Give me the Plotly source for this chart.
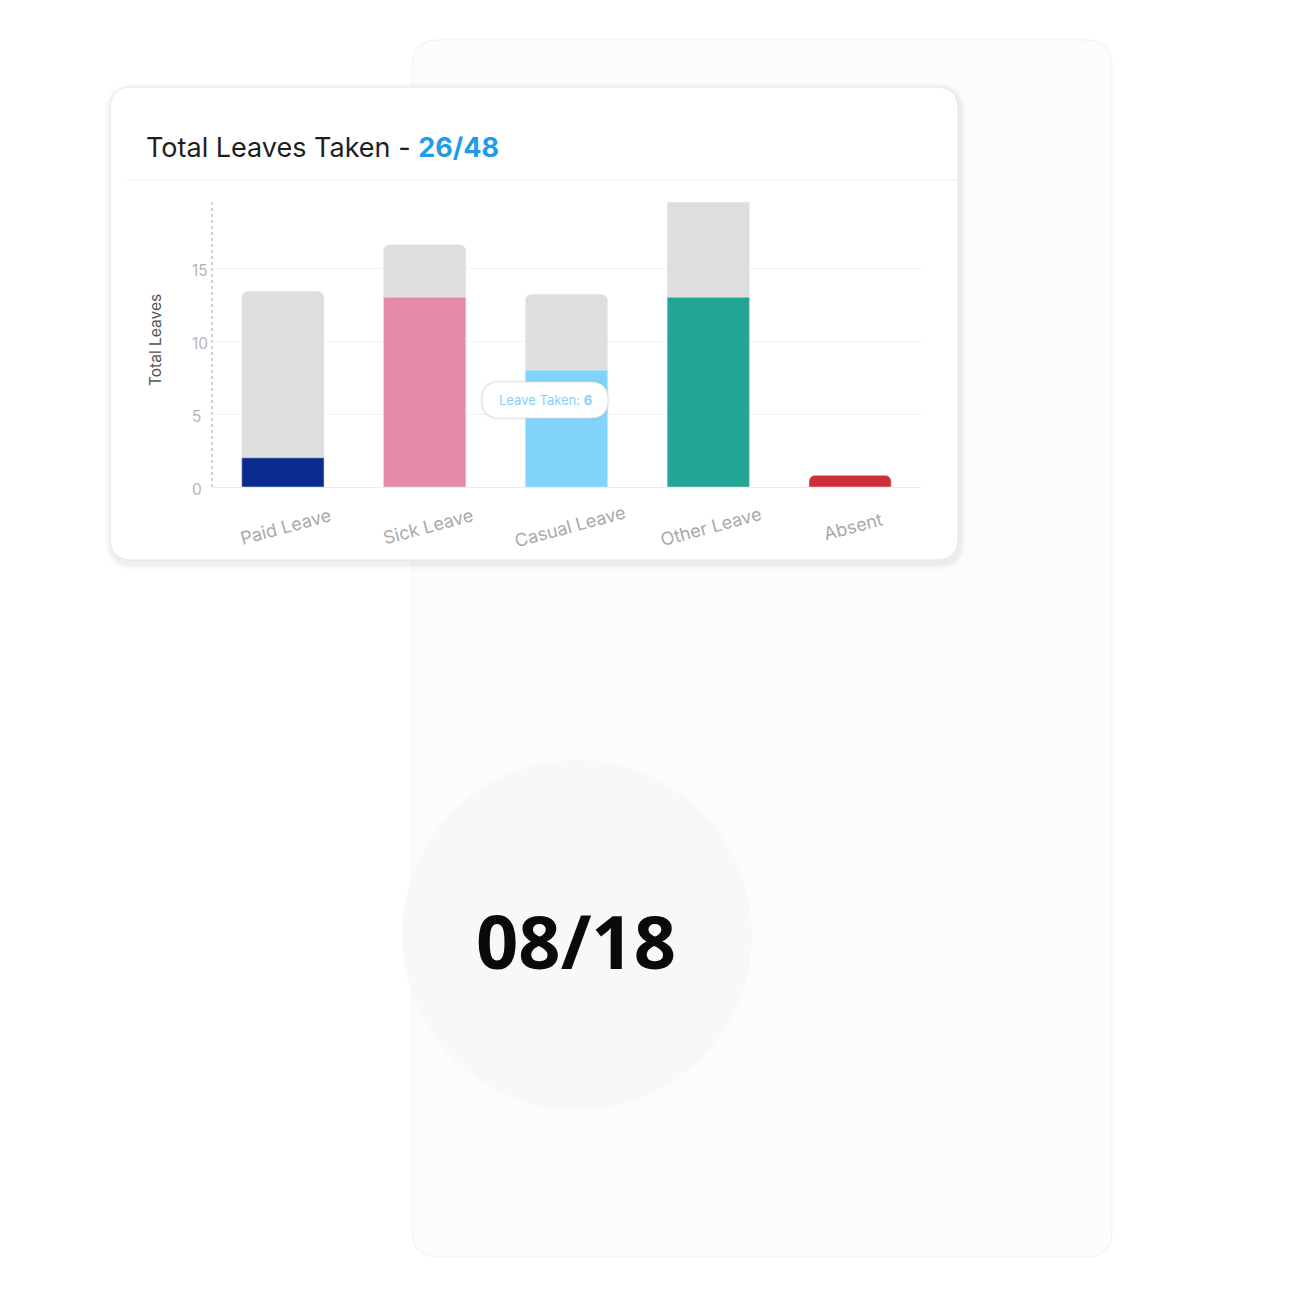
import plotly.graph_objects as go

# ---------------- data ----------------
categories = ["Paid Leave", "Sick Leave", "Casual Leave", "Other Leave", "Absent"]
total_allowed = [13.4, 16.6, 13.2, 19.8, 0]
leave_taken = [2.0, 13.0, 8.0, 13.0, 0.8]
bar_colors = ["#0b2c8c", "#e58aa7", "#80d3fa", "#23a596", "#cf2f39"]
y_ticks = [0, 5, 10, 15]
title_main = "Total Leaves Taken - "
title_ratio = "26/48"
tooltip_label = "Leave Taken: "
tooltip_value = "6"
big_ratio = "08/18"

W = 1296
H = 1296


def px(x):
    return x / W


def py(y):
    return 1 - y / H


def rrect(x0, y0, x1, y1, r):
    # rounded rectangle path in paper coordinates from pixel box
    X0, X1 = px(x0), px(x1)
    Y0, Y1 = py(y0), py(y1)  # Y0 top (bigger), Y1 bottom
    RX = r / W
    RY = r / H
    return (f"M {X0+RX},{Y0} L {X1-RX},{Y0} Q {X1},{Y0} {X1},{Y0-RY} "
            f"L {X1},{Y1+RY} Q {X1},{Y1} {X1-RX},{Y1} "
            f"L {X0+RX},{Y1} Q {X0},{Y1} {X0},{Y1+RY} "
            f"L {X0},{Y0-RY} Q {X0},{Y0} {X0+RX},{Y0} Z")


fig = go.Figure()

fig.add_trace(go.Bar(
    x=categories, y=total_allowed, marker_color="#dedede",
    width=0.58, cliponaxis=False, hoverinfo="skip", showlegend=False,
))
fig.add_trace(go.Bar(
    x=categories, y=leave_taken, marker_color=bar_colors,
    width=0.58, cliponaxis=False, showlegend=False,
))

shapes = []
# background tall card
shapes.append(dict(type="path", xref="paper", yref="paper", layer="below",
                   path=rrect(412, 40, 1112, 1257, 26),
                   fillcolor="#fcfcfc", line=dict(color="#f1f1f1", width=1)))
# circle
shapes.append(dict(type="circle", xref="paper", yref="paper", layer="below",
                   x0=px(402), x1=px(752), y0=py(1110), y1=py(760),
                   fillcolor="#f8f8f8", line=dict(width=0)))
# front card shadow
for i, a in enumerate([0.016, 0.02, 0.028]):
    e = 7 - 2 * i
    shapes.append(dict(type="path", xref="paper", yref="paper", layer="below",
                       path=rrect(110 - e + 2, 87 - e + 3, 958 + e + 1, 560 + e + 3, 22 + e),
                       fillcolor=f"rgba(0,0,0,{a})", line=dict(width=0)))
# front card
shapes.append(dict(type="path", xref="paper", yref="paper", layer="below",
                   path=rrect(110, 87, 958, 560, 22),
                   fillcolor="#ffffff", line=dict(color="#e6e6e6", width=1)))
# separator under title
shapes.append(dict(type="line", xref="paper", yref="paper", layer="below",
                   x0=px(127), x1=px(958), y0=py(180), y1=py(180),
                   line=dict(color="#eeeeee", width=1)))
# dotted y axis line
shapes.append(dict(type="line", xref="x domain", yref="y domain", layer="below",
                   x0=0, x1=0, y0=0, y1=1,
                   line=dict(color="#c4c4c4", width=1.5, dash="dot")))
# tooltip pill
shapes.append(dict(type="path", xref="paper", yref="paper", layer="above",
                   path=rrect(480, 380, 610, 420, 20),
                   fillcolor="rgba(0,0,0,0.04)", line=dict(width=0)))
shapes.append(dict(type="path", xref="paper", yref="paper", layer="above",
                   path=rrect(482, 382, 608, 418, 18),
                   fillcolor="#ffffff", line=dict(color="#e4e4e4", width=1.2)))

annotations = []
annotations.append(dict(
    xref="paper", yref="paper", x=px(144), y=py(148), xanchor="left", yanchor="middle",
    text=f"{title_main}<b><span style='color:#1f9be8'>{title_ratio}</span></b>",
    showarrow=False, font=dict(family="Inter", size=27, color="#1e1e1e"),
))
annotations.append(dict(
    xref="paper", yref="paper", x=px(155), y=py(340), xanchor="center", yanchor="middle",
    text="Total Leaves", textangle=-90, showarrow=False,
    font=dict(family="Inter", size=15.5, color="#555555"),
))
# y tick labels, left aligned as in the reference
for t in y_ticks:
    annotations.append(dict(
        xref="paper", yref="y", x=px(190), y=t, xanchor="left", yanchor="middle",
        text=str(t), showarrow=False, yshift=-2,
        font=dict(family="Inter", size=15.5, color="#b5b5b5"),
    ))
for c in categories:
    annotations.append(dict(
        xref="x", yref="paper", x=c, y=py(526), xanchor="center", yanchor="middle",
        text=c, textangle=-15, showarrow=False, xshift=3,
        font=dict(family="Inter", size=18, color="#a9a9a9"),
    ))
annotations.append(dict(
    xref="paper", yref="paper", x=px(545), y=py(400), xanchor="center", yanchor="middle",
    text=f"{tooltip_label}<b>{tooltip_value}</b>", showarrow=False,
    font=dict(family="Inter", size=13, color="#86d0fb"),
))
annotations.append(dict(
    xref="paper", yref="paper", x=px(576), y=py(940), xanchor="center", yanchor="middle",
    text=f"<b>{big_ratio}</b>", showarrow=False,
    font=dict(family="Noto Sans", size=74, color="#0a0a0a"),
))

y_top = 19.5
y0_px = 487
unit = 14.6
fig.update_layout(
    width=W, height=H,
    margin=dict(l=0, r=0, t=0, b=0),
    paper_bgcolor="#ffffff", plot_bgcolor="rgba(0,0,0,0)",
    barmode="overlay", barcornerradius=6, bargap=0.42,
    shapes=shapes, annotations=annotations,
    xaxis=dict(domain=[px(212), px(921)], range=[-0.5, 4.5], type="category",
               showticklabels=False, showgrid=False, zeroline=False, showline=False),
    yaxis=dict(domain=[py(y0_px), py(y0_px - y_top * unit)], range=[0, y_top],
               tickvals=y_ticks, showticklabels=False,
               showgrid=True, gridcolor="#f3f3f3", gridwidth=1,
               zeroline=True, zerolinecolor="#ececec", zerolinewidth=1,
               showline=False, ticks=""),
    font=dict(family="Inter"),
)

fig.write_html(
    "out.html",
    config={"displayModeBar": False},
    post_script=(
        "document.documentElement.style.margin='0';"
        "document.body.style.margin='0';"
    ),
)
